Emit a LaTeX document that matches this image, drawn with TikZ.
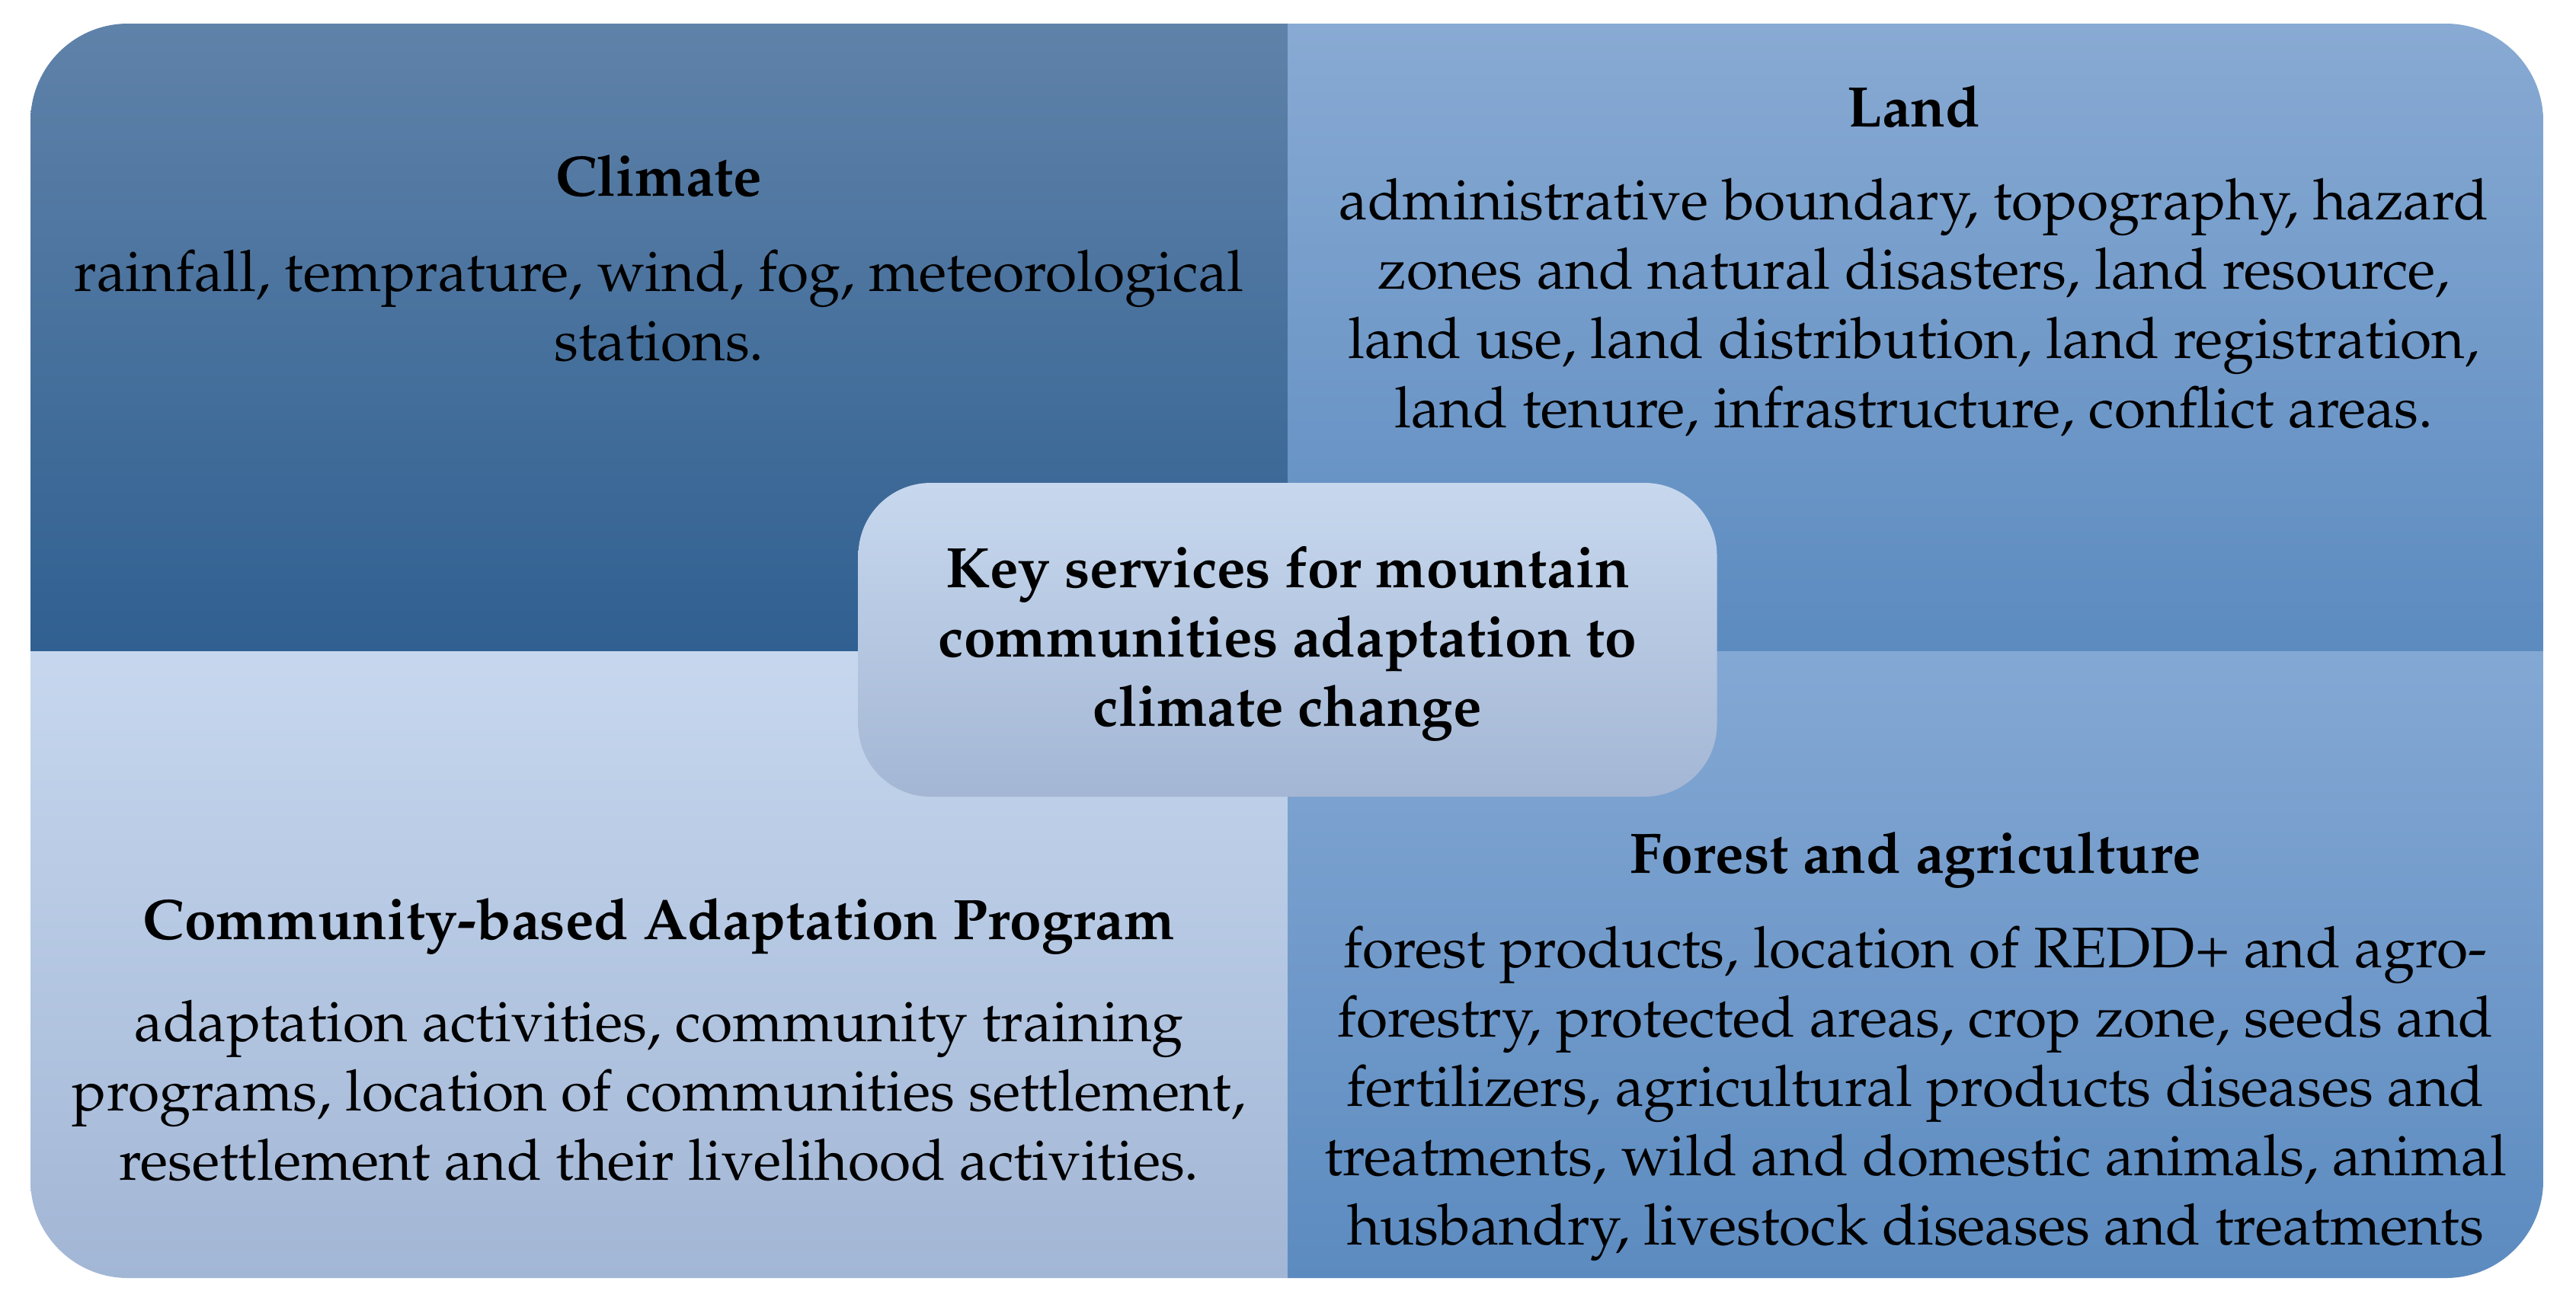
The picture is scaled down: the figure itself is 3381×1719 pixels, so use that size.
\documentclass[tikz,border=0pt]{standalone}
\usepackage[T1]{fontenc}
\renewcommand{\rmdefault}{ppl}
\definecolor{tlTop}{RGB}{95,130,169}
\definecolor{tlBot}{RGB}{48,96,145}
\definecolor{trTop}{RGB}{136,170,211}
\definecolor{trBot}{RGB}{92,139,192}
\definecolor{blTop}{RGB}{198,215,238}
\definecolor{blBot}{RGB}{162,182,213}
\definecolor{brTop}{RGB}{132,168,212}
\definecolor{brBot}{RGB}{92,139,192}
\definecolor{ctTop}{RGB}{199,216,238}
\definecolor{ctBot}{RGB}{163,182,212}
\tikzset{
  bodytext/.style={align=center, font=\fontsize{15}{18.2}\selectfont, inner sep=0pt},
  titletext/.style={align=center, font=\fontsize{15}{18.2}\selectfont\bfseries, inner sep=0pt},
}
\begin{document}
\begin{tikzpicture}[x=0.2pt,y=-0.2pt]
\useasboundingbox (0,0) rectangle (3381,1719);
\begin{scope}
  \clip[rounded corners=25.6pt] (40,31) rectangle (3338,1678);
  \shade[top color=tlTop, bottom color=tlBot] (40,31) rectangle (1690,855);
  \shade[top color=trTop, bottom color=trBot] (1690,31) rectangle (3338,855);
  \shade[top color=blTop, bottom color=blBot] (40,855) rectangle (1690,1678);
  \shade[top color=brTop, bottom color=brBot] (1690,855) rectangle (3338,1678);
\end{scope}
\node[shade, top color=ctTop, bottom color=ctBot, rounded corners=19pt,
      minimum width=225.4pt, minimum height=82.4pt, inner sep=0pt] (centerbox) at (1690,840) {};
\node[titletext] (keytitle) at (1690,845) {Key services for mountain\\communities adaptation to\\climate change};
\node[titletext] (climatetitle) at (865,231) {Climate};
\node[bodytext] (climatebody) at (865,402) {rainfall, temprature, wind, fog, meteorological\\stations.};
\node[titletext] (landtitle) at (2512,140) {Land};
\node[bodytext] (landbody) at (2512,404) {administrative boundary, topography, hazard\\zones and natural disasters, land resource,\\land use, land distribution, land registration,\\land tenure, infrastructure, conflict areas.};
\node[titletext] (cbatitle) at (865,1216) {Community-based Adaptation Program};
\node[bodytext] (cbabody) at (865,1432) {adaptation activities, community training\\programs, location of communities settlement,\\resettlement and their livelihood activities.};
\node[titletext] (foresttitle) at (2514,1129) {Forest and agriculture};
\node[bodytext] (forestbody) at (2514,1436) {forest products, location of REDD+ and agro-\\forestry, protected areas, crop zone, seeds and\\fertilizers, agricultural products diseases and\\treatments, wild and domestic animals, animal\\husbandry, livestock diseases and treatments};
\end{tikzpicture}
\end{document}
